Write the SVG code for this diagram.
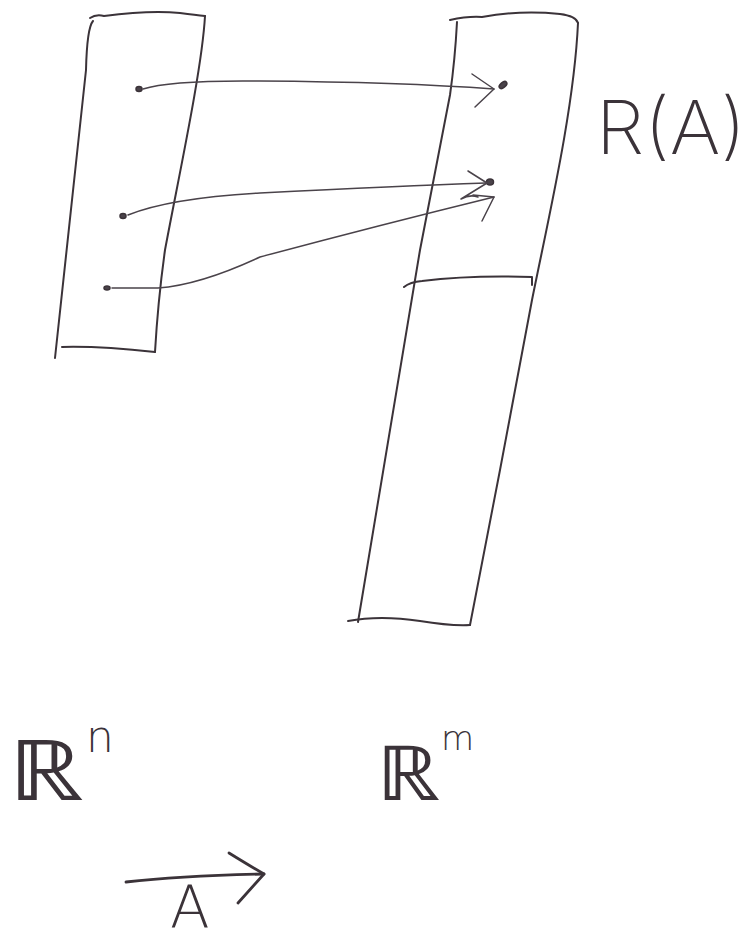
<svg xmlns="http://www.w3.org/2000/svg" width="754" height="947" viewBox="0 0 754 947">
  <defs>
    <style>
      .ink { fill: none; stroke: #3b3339; stroke-width: 2; stroke-linecap: round; stroke-linejoin: round; }
      .bold { stroke-width: 2.8; }
      .thin { fill: none; stroke: #4a434a; stroke-width: 1.5; stroke-linecap: round; stroke-linejoin: round; }
      .dot { fill: #4a434a; stroke: #3b3339; stroke-width: 1.5; }
      .hand { fill: #3b3339; font-family: "Inter", "Liberation Sans", sans-serif; font-weight: 200; }
      .math { fill: #3b3339; font-family: "DejaVu Sans", "Liberation Sans", sans-serif; font-weight: 200; }
    </style>
  </defs>
  <rect width="754" height="947" fill="#ffffff"/>

  <!-- domain strip -->
  <g id="domain">
    <path class="ink" d="M90,18 Q96,14 104,16 Q150,10 180,13 Q196,15 205,16"/>
    <path class="ink" d="M205,16 C202,70 178,180 165,250 Q158,300 155,352"/>
    <path class="ink" d="M93,21 Q87,28 86,70 L55,358"/>
    <path class="ink" d="M62,347 Q100,346 155,352"/>
    <ellipse class="dot" cx="139" cy="89" rx="3" ry="2.5"/>
    <ellipse class="dot" cx="123" cy="216" rx="3" ry="2.5"/>
    <ellipse class="dot" cx="107" cy="288" rx="3" ry="2"/>
  </g>

  <!-- codomain strip with its upper part R(A) -->
  <g id="codomain">
    <path class="ink" d="M450,20 Q468,16 482,17 Q520,10 560,14 Q576,16 578,23"/>
    <path class="ink" d="M578,23 C574,110 548,220 532,300 L500,470 L470,625"/>
    <path class="ink" d="M457,22 Q455,60 450,95 L420,250 L358,622"/>
    <path class="ink" d="M348,621 Q380,615 420,621 Q450,626 470,625"/>
    <path class="ink" d="M404,287 Q410,282 422,281 Q470,275 532,277 L532,285"/>
    <ellipse class="dot" cx="503" cy="85" rx="4.5" ry="2.5" transform="rotate(-40 503 85)"/>
    <ellipse class="dot" cx="490" cy="182" rx="3.5" ry="3"/>
  </g>

  <g id="label-range">
    <text class="hand" x="596" y="154" font-size="74" textLength="150" lengthAdjust="spacingAndGlyphs">R(A)</text>
  </g>

  <g id="label-rn">
    <text class="math" x="8" y="800" font-size="84" textLength="76" lengthAdjust="spacingAndGlyphs">ℝ</text>
    <text class="math" x="86" y="752" font-size="44">n</text>
  </g>

  <g id="label-rm">
    <text class="math" x="376" y="800" font-size="76" textLength="64" lengthAdjust="spacingAndGlyphs">ℝ</text>
    <text class="math" x="441" y="750" font-size="34">m</text>
  </g>

  <g id="map-arrow">
    <path class="ink bold" d="M126,882 Q180,876 264,874"/>
    <path class="ink bold" d="M229,853 Q250,866 264,874 L238,903"/>
    <text class="math" x="170" y="928" font-size="58">A</text>
  </g>

  <!-- point-to-point mappings -->
  <g id="connectors">
    <path class="thin" d="M143,89 Q170,80 260,81 Q400,82 494,89"/>
    <path class="thin" d="M472,74 L494,89 L475,107"/>
    <path class="thin" d="M128,215 Q170,198 260,193 Q400,186 486,183"/>
    <path class="thin" d="M468,171 L487,183 L461,199 Q470,194 478,197"/>
    <path class="thin" d="M112,288 L158,288 Q200,285 260,257 Q380,225 494,197"/>
    <path class="thin" d="M473,195 L494,197 L482,221"/>
  </g>
</svg>
